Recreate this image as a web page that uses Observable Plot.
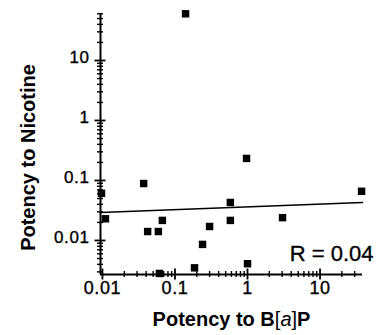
<!DOCTYPE html>
<html><head><meta charset="utf-8">
<script src="https://cdn.jsdelivr.net/npm/d3@7"></script>
<script src="https://cdn.jsdelivr.net/npm/@observablehq/plot@0.6"></script>
<style>
html,body{margin:0;padding:0;background:#fff;}
#chart svg{display:block;}
g[aria-label="x-axis tick label"] text, g[aria-label="y-axis tick label"] text{letter-spacing:0.6px;stroke:#000;stroke-width:0.35px;}
</style></head><body><div id="chart"></div>
<script>
// Data (potency relative to B[a]P vs relative to nicotine)
const potencyBaP      = [0.14, 0.97, 0.037, 0.0097, 0.011, 0.042, 0.059, 0.067, 0.061, 0.58, 0.58, 0.30, 0.24, 0.186, 1.0, 37.4, 3.04];
const potencyNicotine = [60, 0.233, 0.089, 0.061, 0.023, 0.0141, 0.0141, 0.0216, 0.00282, 0.043, 0.0216, 0.0171, 0.0086, 0.0035, 0.0041, 0.066, 0.024];
// Regression line end points
const fitX = [0.0094, 38.5];
const fitY = [0.0293, 0.043];
// Axes
const xDomain = [0.0094, 38.5];
const yDomain = [0.00271, 60.7];
const xTicks = [0.01, 0.1, 1, 10];
const xTickLabels = ["0.01", "0.1", "1", "10"];
const yTicks = [0.01, 0.1, 1, 10];
const yTickLabels = ["0.01", "0.1", "1", "10"];
const xTitle = "Potency to B[a]P";
const yTitle = "Potency to Nicotine";
const rLabel = "R = 0.04";

const points = potencyBaP.map((x, i) => ({x, y: potencyNicotine[i]}));
const fit = fitX.map((x, i) => ({x, y: fitY[i]}));
const near = (a, b) => Math.abs(a - b) / b < 1e-6;
const xMinor = d3.scaleLog().domain(xDomain).ticks().filter(t => !xTicks.some(m => near(t, m)));
const yMinor = d3.scaleLog().domain(yDomain).ticks().filter(t => !yTicks.some(m => near(t, m)));
const xLabelOf = d => xTickLabels[xTicks.findIndex(m => near(d, m))];
const yLabelOf = d => yTickLabels[yTicks.findIndex(m => near(d, m))];

const font = "'Liberation Sans', Arial, Helvetica, sans-serif";

const chart = Plot.plot({
  width: 376,
  height: 335,
  marginLeft: 100,
  marginRight: 14,
  marginTop: 13,
  marginBottom: 61,
  style: {fontFamily: font, fontSize: "17px", background: "#fff", color: "#000"},
  x: {type: "log", domain: xDomain},
  y: {type: "log", domain: yDomain},
  marks: [
    // axis lines
    Plot.ruleX([xDomain[0]], {strokeWidth: 2}),
    Plot.ruleY([yDomain[0]], {strokeWidth: 2}),
    // minor ticks crossing the axes
    Plot.axisY(yMinor, {tickSize: 6, dx: 3, text: null, label: null, strokeWidth: 1.4}),
    Plot.axisX(xMinor, {tickSize: 6, dy: -3, text: null, label: null, strokeWidth: 1.4}),
    // major ticks
    Plot.axisY(yTicks, {tickSize: 11, dx: 5.5, text: null, label: null, strokeWidth: 1.8}),
    Plot.axisX(xTicks, {tickSize: 11, dy: -5.5, text: null, label: null, strokeWidth: 1.8}),
    // tick labels
    Plot.axisY(yTicks, {tickSize: 0, tickPadding: 11, dy: -3, label: null, fontSize: 17, tickFormat: yLabelOf}),
    Plot.axisX(xTicks, {tickSize: 0, tickPadding: 7, label: null, fontSize: 18, tickFormat: xLabelOf}),
    // regression line
    Plot.line(fit, {x: "x", y: "y", stroke: "#000", strokeWidth: 1.5}),
    // data points
    Plot.dot(points, {x: "x", y: "y", symbol: "square", r: 4.2, fill: "#000", stroke: "none"}),
    // R label
    Plot.text([rLabel], {frameAnchor: "bottom-right", dx: 11, dy: -14, textAnchor: "end", lineAnchor: "bottom", fontSize: 22, fill: "#000", stroke: "#000", strokeWidth: 0.35}),
    // axis titles
    Plot.text([yTitle], {frameAnchor: "left", rotate: -90, dx: -66, dy: 13.5, textAnchor: "middle", lineAnchor: "bottom", fontSize: 20, fontWeight: "bold", fill: "#000"}),
    Plot.text([xTitle], {frameAnchor: "bottom", dy: 51, textAnchor: "middle", lineAnchor: "bottom", fontSize: 20, fontWeight: "bold", fill: "#000"})
  ]
});
document.getElementById("chart").appendChild(chart);

// Rich text for "B[a]P": italic, non-bold a with thin brackets
d3.select(chart).selectAll("text").filter(function() { return this.textContent === xTitle; }).each(function() {
  const t = d3.select(this);
  t.text(null);
  t.append("tspan").text("Potency to B");
  t.append("tspan").attr("font-weight", "normal").text("[");
  t.append("tspan").attr("font-weight", "normal").attr("font-style", "italic").text("a");
  t.append("tspan").attr("font-weight", "normal").text("]");
  t.append("tspan").text("P");
});
</script>
</body></html>
